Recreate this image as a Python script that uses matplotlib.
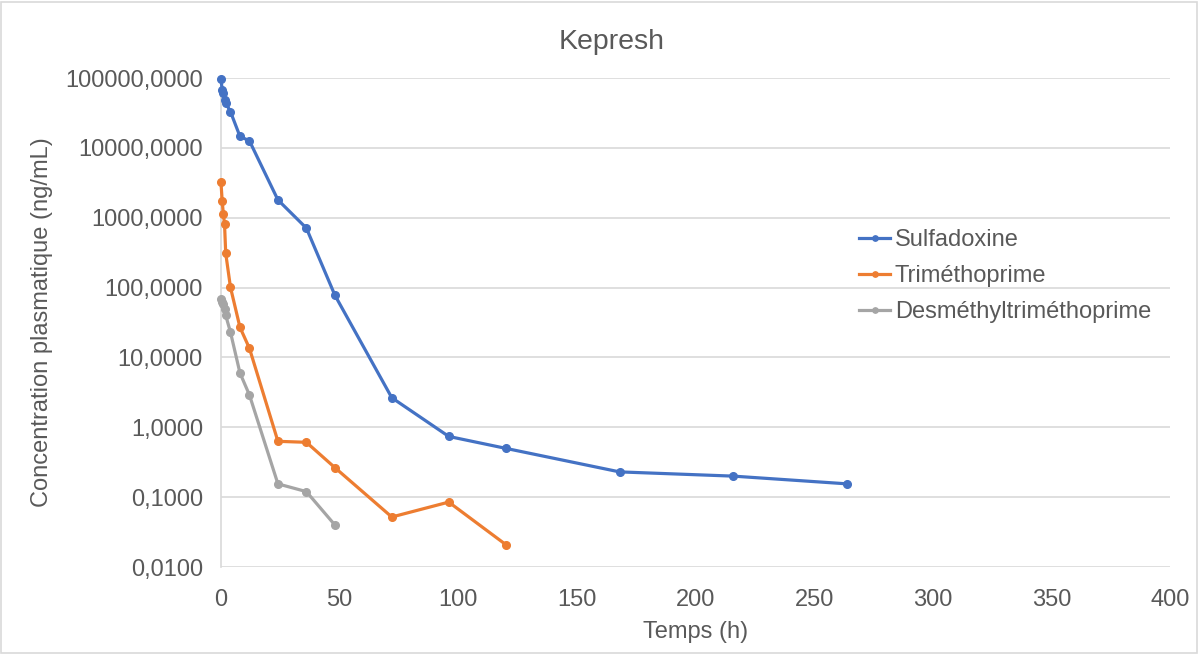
import numpy as np
import matplotlib.pyplot as plt
from matplotlib.patches import Rectangle
from matplotlib.ticker import FixedLocator, FuncFormatter

plt.rcParams['font.family'] = ['Liberation Sans', 'DejaVu Sans']

# Sampling times (h)
t_sulfa = [0, 0.5, 1, 1.5, 2, 4, 8, 12, 24, 36, 48, 72, 96, 120, 168, 216, 264]
t_trim = [0, 0.5, 1, 1.5, 2, 4, 8, 12, 24, 36, 48, 72, 96, 120]
t_desm = [0, 0.5, 1, 1.5, 2, 4, 8, 12, 24, 36, 48]

# Plasma concentrations (ng/mL)
sulfadoxine = [97000, 68000, 61000, 49000, 44000, 33000, 14600, 12600,
               1800, 710, 78, 2.65, 0.74, 0.50, 0.23, 0.20, 0.155]
trimethoprime = [3200, 1750, 1130, 810, 310, 101, 27, 13.5,
                 0.63, 0.61, 0.265, 0.052, 0.085, 0.021]
desmethyl = [68, 62, 58, 49, 40, 23, 6.0, 2.9, 0.155, 0.12, 0.040]

y_ticks = [0.01, 0.1, 1, 10, 100, 1000, 10000, 100000]
x_ticks = np.arange(0, 401, 50)

txt = '#595959'
grid = '#d9d9d9'

fig = plt.figure(figsize=(11.99, 6.54), dpi=100)
ax = fig.add_axes([0.1843, 0.133, 0.7915, 0.7477])

series = [
    (t_sulfa, sulfadoxine, '#4472c4', 'Sulfadoxine'),
    (t_trim, trimethoprime, '#ed7d31', 'Triméthoprime'),
    (t_desm, desmethyl, '#a5a5a5', 'Desméthyltriméthoprime'),
]
for t, c, col, lab in series:
    ax.plot(t, c, color=col, lw=2.3, marker='o', ms=5.5, label=lab,
            clip_on=False, zorder=3)

ax.set_yscale('log')
ax.set_ylim(0.01, 100000)
ax.set_xlim(0, 400)
ax.yaxis.set_major_locator(FixedLocator(y_ticks))
ax.yaxis.set_minor_locator(FixedLocator([]))
ax.yaxis.set_major_formatter(FuncFormatter(lambda v, p: f'{v:.4f}'.replace('.', ',')))
ax.set_xticks(x_ticks)

ax.grid(axis='y', color=grid, lw=1.2)
ax.set_axisbelow(True)
for s in ['top', 'right', 'bottom']:
    ax.spines[s].set_visible(False)
ax.spines['left'].set_color(grid)
ax.spines['left'].set_linewidth(1.2)
ax.tick_params(length=0, labelsize=17, labelcolor=txt)
ax.tick_params(axis='x', pad=16)
ax.tick_params(axis='y', pad=13)

ax.set_xlabel('Temps (h)', fontsize=17, color=txt, labelpad=7)
ax.set_ylabel('Concentration plasmatique (ng/mL)', fontsize=17, color=txt, labelpad=9)
fig.text(0.5103, 0.936, 'Kepresh', fontsize=20.5, color=txt, ha='center', va='center')

fig.legend(loc='center left', bbox_to_anchor=(0.707, 0.578), frameon=False,
           fontsize=17, labelcolor=txt, handlelength=1.3, handletextpad=0.2,
           labelspacing=0.6, borderpad=0, markerscale=0.7)

fig.patches.append(Rectangle((0.001, 0.002), 0.997, 0.995, transform=fig.transFigure,
                             fill=False, edgecolor=grid, lw=1.2))

fig.savefig('out.png', dpi=100)
